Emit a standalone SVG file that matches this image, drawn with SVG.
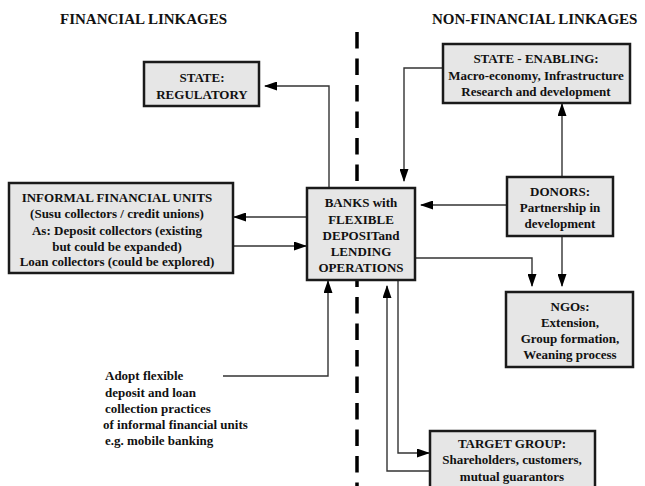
<svg xmlns="http://www.w3.org/2000/svg" width="645" height="486" viewBox="0 0 645 486">
<defs>
<marker id="ah" markerWidth="13" markerHeight="9" refX="12" refY="4.5" orient="auto" markerUnits="userSpaceOnUse">
<path d="M0,0 L13,4.5 L0,9 Z" fill="#000"/>
</marker>
<style>
text{font-family:"Liberation Serif","Times New Roman",serif;font-weight:bold;fill:#111}
.t{font-size:15px}
.n{font-size:13px;text-anchor:middle}
.a{font-size:13px}
.box{fill:#e6e6e6;stroke:#1a1a1a;stroke-width:2.5}
.c{fill:none;stroke:#333;stroke-width:1.4;marker-end:url(#ah)}
.dl{stroke:#000;stroke-width:3.5;stroke-dasharray:16.5 10;fill:none}
</style>
</defs>
<g id="titles">
<text class="t" x="60" y="24">FINANCIAL LINKAGES</text>
<text class="t" x="432" y="24">NON-FINANCIAL LINKAGES</text>
</g>
<line id="divider" class="dl" x1="357" y1="32" x2="357" y2="486"/>
<g id="connectors">
<path class="c" d="M329,187 V86 H265"/>
<path class="c" d="M443,68 H404 V181"/>
<path class="c" d="M562,177 V104"/>
<path class="c" d="M507,205 H421"/>
<path class="c" d="M562,236 V286"/>
<path class="c" d="M415,258 H532 V286"/>
<path class="c" d="M307,217 H234"/>
<path class="c" d="M233,246 H306"/>
<path class="c" d="M223,376 H328 V281"/>
<path class="c" d="M398,280 V453 H429"/>
<path class="c" d="M430,471 H387 V286"/>
</g>
<g id="state-regulatory">
<rect class="box" x="144" y="62" width="115" height="44"/>
<text class="n" x="202" y="82">STATE:</text>
<text class="n" x="202" y="99">REGULATORY</text>
</g>
<g id="state-enabling">
<rect class="box" x="443" y="44" width="187" height="59"/>
<text class="n" x="536" y="63">STATE - ENABLING:</text>
<text class="n" x="536" y="80">Macro-economy, Infrastructure</text>
<text class="n" x="536" y="96">Research and development</text>
</g>
<g id="informal">
<rect class="box" x="9" y="183" width="224" height="90"/>
<text class="n" x="117" y="202">INFORMAL FINANCIAL UNITS</text>
<text class="n" x="117" y="218">(Susu collectors / credit unions)</text>
<text class="n" x="117" y="235">As: Deposit collectors (existing</text>
<text class="n" x="117" y="251">but could be expanded)</text>
<text class="n" x="117" y="266">Loan collectors (could be explored)</text>
</g>
<g id="banks">
<rect class="box" x="307" y="188" width="108" height="92"/>
<text class="n" x="361" y="207">BANKS with</text>
<text class="n" x="361" y="224">FLEXIBLE</text>
<text class="n" x="361" y="240">DEPOSITand</text>
<text class="n" x="361" y="256">LENDING</text>
<text class="n" x="361" y="272">OPERATIONS</text>
</g>
<g id="donors">
<rect class="box" x="507" y="177" width="106" height="59"/>
<text class="n" x="560" y="196">DONORS:</text>
<text class="n" x="560" y="212">Partnership in</text>
<text class="n" x="560" y="228">development</text>
</g>
<g id="ngos">
<rect class="box" x="506" y="292" width="127" height="75"/>
<text class="n" x="570" y="311">NGOs:</text>
<text class="n" x="570" y="327">Extension,</text>
<text class="n" x="570" y="343">Group formation,</text>
<text class="n" x="570" y="359">Weaning process</text>
</g>
<g id="target">
<rect class="box" x="430" y="431" width="165" height="62"/>
<text class="n" x="512" y="448">TARGET GROUP:</text>
<text class="n" x="512" y="464">Shareholders, customers,</text>
<text class="n" x="512" y="481">mutual guarantors</text>
</g>
<g id="adopt-note">
<text class="a" x="105" y="380">Adopt flexible</text>
<text class="a" x="105" y="397">deposit and loan</text>
<text class="a" x="105" y="413">collection practices</text>
<text class="a" x="103" y="429">of informal financial units</text>
<text class="a" x="105" y="445">e.g. mobile banking</text>
</g>
</svg>
